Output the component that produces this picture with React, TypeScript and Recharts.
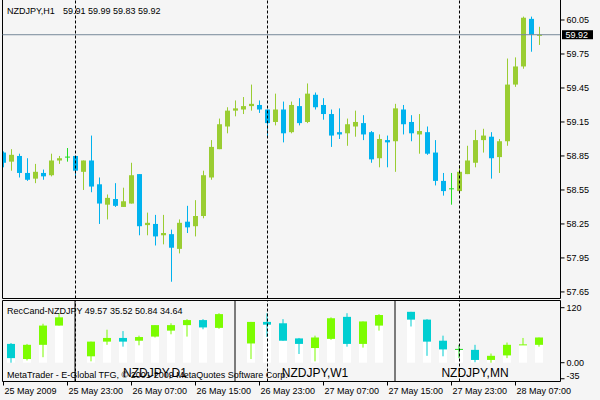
import React from 'react';
import { ComposedChart, Bar, XAxis, YAxis, ReferenceLine, ReferenceArea } from 'recharts';

const FONT = '"Liberation Sans", Arial, sans-serif';
const BG = '#f5f5f5';
const UP = '#9acd32';
const DOWN = '#00b2ee';
const DOJI = '#22dd22';
const REC_UP = '#7cfc00';
const REC_DOWN = '#00ced1';

// NZDJPY H1, 25 May 2009 15:00 -> 28 May 2009 10:00
const opens = [
  58.88, 58.80, 58.85, 58.70, 58.65, 58.70, 58.68, 58.81, 58.84, 58.85,
  58.71, 58.81, 58.60, 58.42, 58.47, 58.40, 58.43, 58.69, 58.24, 58.25,
  58.15, 58.16, 58.03, 58.27, 58.23, 58.32, 58.66, 58.91, 59.11, 59.25,
  59.26, 59.29, 59.30, 59.26, 59.15, 59.26, 59.06, 59.29, 59.15, 59.39,
  59.30, 59.22, 59.06, 59.05, 59.11, 59.14, 59.06, 58.83, 58.99, 58.98,
  59.26, 59.15, 59.04, 59.06, 58.88, 58.63, 58.56, 58.54, 58.69, 58.79,
  58.99, 59.02, 58.84, 58.98, 59.48, 59.64, 60.06, 59.91,
];
const highs = [
  58.89, 58.91, 58.87, 58.83, 58.78, 58.73, 58.87, 58.85, 58.92, 58.85,
  58.81, 59.03, 58.66, 58.51, 58.61, 58.57, 58.79, 58.69, 58.35, 58.33,
  58.33, 58.20, 58.29, 58.41, 58.46, 58.72, 58.99, 59.18, 59.28, 59.34,
  59.37, 59.48, 59.34, 59.26, 59.40, 59.33, 59.33, 59.36, 59.49, 59.41,
  59.36, 59.26, 59.27, 59.18, 59.25, 59.21, 59.07, 59.04, 59.03, 59.31,
  59.30, 59.21, 59.22, 59.11, 58.99, 58.70, 58.70, 58.77, 58.94, 59.08,
  59.09, 59.06, 59.00, 59.71, 59.72, 60.08, 60.08, 59.99,
];
const lows = [
  58.75, 58.72, 58.66, 58.63, 58.61, 58.64, 58.67, 58.78, 58.80, 58.65,
  58.55, 58.53, 58.25, 58.29, 58.40, 58.40, 58.43, 58.15, 58.15, 58.06,
  58.07, 57.74, 57.99, 58.17, 58.14, 58.30, 58.64, 58.91, 59.05, 59.20,
  59.22, 59.25, 59.23, 59.02, 59.12, 58.97, 59.05, 59.12, 59.14, 59.26,
  59.17, 58.93, 59.00, 58.94, 59.02, 58.99, 58.79, 58.75, 58.75, 58.71,
  59.04, 58.98, 58.87, 58.86, 58.59, 58.50, 58.42, 58.52, 58.69, 58.75,
  58.88, 58.65, 58.70, 58.94, 59.46, 59.62, 59.77, 59.83,
];
const closes = [
  58.79, 58.86, 58.70, 58.64, 58.71, 58.67, 58.81, 58.83, 58.84, 58.72,
  58.81, 58.58, 58.43, 58.48, 58.41, 58.45, 58.68, 58.23, 58.26, 58.14,
  58.17, 58.04, 58.26, 58.22, 58.32, 58.68, 58.93, 59.13, 59.25, 59.27,
  59.29, 59.31, 59.26, 59.14, 59.26, 59.05, 59.30, 59.14, 59.40, 59.28,
  59.22, 59.03, 59.04, 59.13, 59.15, 59.04, 58.82, 59.00, 58.97, 59.27,
  59.13, 59.05, 59.07, 58.87, 58.63, 58.54, 58.56, 58.71, 58.81, 58.99,
  59.03, 58.83, 58.98, 59.48, 59.64, 60.07, 59.92, 59.92,
];

const priceTicks = [57.65, 57.95, 58.25, 58.55, 58.85, 59.15, 59.45, 59.75, 60.05];
const lastPrice = 59.92;
const daySeparators = [9, 33, 57];
const timeTicks = [0, 8, 16, 24, 32, 40, 48, 56, 64];
const timeLabels = [
  '25 May 2009', '25 May 23:00', '26 May 07:00', '26 May 15:00', '26 May 23:00',
  '27 May 07:00', '27 May 15:00', '27 May 23:00', '28 May 07:00',
];

// RecCand sub window: one group of candles per timeframe
const recNames = ['', 'NZDJPY,D1', 'NZDJPY,W1', 'NZDJPY,MN'];
const recOpen = [
  [41, 8, 39, 81],
  [14, 46, 54, 48, 57, 70, 82, 93, 76],
  [42, 89, 86, 53, 32, 52, 100, 41, 81],
  [111, 94, 48, 29, 28, 6, 16, 39, 39],
];
const recHigh = [
  [43, 41, 85, 108],
  [46, 72, 69, 59, 82, 86, 95, 95, 108],
  [89, 108, 95, 54, 59, 99, 108, 90, 106],
  [111, 95, 59, 39, 39, 20, 44, 54, 55],
];
const recLow = [
  [0, 5, 12, 81],
  [3, 39, 35, 38, 55, 62, 57, 73, 74],
  [8, 56, 48, 19, 3, 50, 35, 33, 70],
  [79, 15, 14, 10, 1, 0, 10, 39, 35],
];
const recClose = [
  [10, 39, 81, 99],
  [46, 54, 46, 56, 82, 82, 93, 77, 106],
  [89, 83, 48, 41, 55, 97, 41, 90, 104],
  [94, 46, 29, 29, 6, 15, 39, 40, 55],
];
const recTicks = [120, 0, -35];

const candles = opens.map((o, i) => ({
  i, o, hi: highs[i], lo: lows[i], c: closes[i], range: [lows[i], highs[i]],
}));

const groupStart = [0, 5, 15, 25];
const recCandles = recOpen.flatMap((arr, g) =>
  arr.map((o, j) => ({
    slot: groupStart[g] + j,
    o, hi: recHigh[g][j], lo: recLow[g][j], c: recClose[g][j],
    span: [0, recHigh[g][j]],
  }))
);

const Candle = (props: any) => {
  const { x, y, width, height, payload } = props;
  const top = Math.min(y, y + height);
  const h = Math.abs(height);
  const { o, hi, lo, c } = payload;
  const k = hi > lo ? h / (hi - lo) : 0;
  const py = (v: number) => top + (hi - v) * k;
  const cx = x + width / 2;
  if (o === c) {
    return (
      <g>
        <rect x={cx - 0.5} y={top} width={1} height={h} fill={DOJI} />
        <rect x={cx - 2.5} y={py(o) - 0.5} width={5} height={1} fill={DOJI} />
      </g>
    );
  }
  const color = c > o ? UP : DOWN;
  const bt = py(Math.max(o, c));
  const bb = py(Math.min(o, c));
  return (
    <g>
      <rect x={cx - 0.5} y={top} width={1} height={h} fill={color} />
      <rect x={cx - 2.5} y={bt} width={5} height={Math.max(1, bb - bt)} fill={color} />
    </g>
  );
};

const RecCandle = (props: any) => {
  const { x, y, width, height, payload } = props;
  const top = Math.min(y, y + height);
  const h = Math.abs(height);
  const { o, hi, lo, c } = payload;
  const k = hi > 0 ? h / hi : 0;
  const py = (v: number) => top + (hi - v) * k;
  const cx = x + width / 2;
  const zero = top + h;
  const bodyLow = py(Math.min(o, c));
  const column = <rect x={cx - 4} y={bodyLow} width={8} height={Math.max(0, zero - bodyLow)} fill="#fff" />;
  if (o === c) {
    return (
      <g>
        {column}
        <rect x={cx - 0.5} y={top} width={1} height={py(lo) - top} fill={DOJI} />
        <rect x={cx - 4} y={py(o) - 0.5} width={8} height={1} fill={DOJI} />
      </g>
    );
  }
  const color = c > o ? REC_UP : REC_DOWN;
  const bt = py(Math.max(o, c));
  return (
    <g>
      {column}
      <rect x={cx - 0.5} y={top} width={1} height={py(lo) - top} fill={color} />
      <rect x={cx - 4} y={bt} width={8} height={Math.max(1, bodyLow - bt)} fill={color} />
    </g>
  );
};

const PriceTag = (props: any) => {
  const { x, y, width } = props.viewBox;
  return (
    <g>
      <rect x={x + width + 1.5} y={y - 4.5} width={31} height={9} fill="#000" />
      <text x={x + width + 5} y={y} dy="0.35em" fill="#fff" fontSize={9} fontFamily={FONT}>
        {lastPrice.toFixed(2)}
      </text>
    </g>
  );
};

const TimeTick = (props: any) => {
  const { x, y, payload } = props;
  const idx = timeTicks.indexOf(payload.value);
  return (
    <text x={x + 1} y={y} dy="0.71em" fontSize={9} fontFamily={FONT} fill="#000">
      {timeLabels[idx]}
    </text>
  );
};

const RecTick = (props: any) => {
  const { x, y, payload } = props;
  const v = payload.value;
  const label = v === 0 ? '0.00' : String(v);
  return (
    <text x={x} y={v === -35 ? y - 3 : y} dy="0.35em" fontSize={9} fontFamily={FONT} fill="#000">
      {label}
    </text>
  );
};

const GroupLabel = (props: any) => {
  const { x, y, width, height } = props.viewBox;
  return (
    <text x={x + width / 2} y={y + height - 5} textAnchor="middle" fontSize={12} fontFamily={FONT} fill="#000">
      {props.value}
    </text>
  );
};

const xDomain = [-0.125, 69.625];
const priceDomain = [57.592, 60.2265];
const slotDomain = [-0.53125, 34.34375];
const recDomain = [-41, 135.7];

export default function App() {
  return (
    <div style={{ position: 'absolute', left: 0, top: 0, width: 600, height: 400, background: BG, overflow: 'hidden' }}>
      <div style={{ position: 'absolute', left: 0, top: 0 }}>
        <ComposedChart width={600} height={299} data={candles} margin={{ top: 0, right: 0, bottom: 0.5, left: 2.5 }}>
          <XAxis type="number" dataKey="i" domain={xDomain} allowDataOverflow hide height={0} />
          <YAxis
            orientation="right"
            width={39.5}
            domain={priceDomain}
            allowDataOverflow
            ticks={priceTicks}
            interval={0}
            tickFormatter={(v: number) => v.toFixed(2)}
            tickSize={4}
            tickMargin={2}
            axisLine={{ stroke: '#000' }}
            tickLine={{ stroke: '#000' }}
            tick={{ fontSize: 9, fontFamily: FONT, fill: '#000' }}
          />
          <ReferenceLine x={xDomain[0]} stroke="#000" ifOverflow="visible" />
          <ReferenceLine y={priceDomain[0]} stroke="#000" ifOverflow="visible" />
          {daySeparators.map((d) => (
            <ReferenceLine key={d} x={d} stroke="#000" strokeDasharray="3 2" />
          ))}
          <ReferenceLine y={lastPrice} stroke="#778899" label={<PriceTag />} />
          <Bar dataKey="range" barSize={6} shape={<Candle />} isAnimationActive={false} />
        </ComposedChart>
      </div>
      <div style={{ position: 'absolute', left: 0, top: 300 }}>
        <ComposedChart width={600} height={100} data={recCandles} margin={{ top: 0.5, right: 0, bottom: 0, left: 2.5 }}>
          <XAxis
            xAxisId="time"
            type="number"
            dataKey="slot"
            domain={xDomain}
            allowDataOverflow
            ticks={timeTicks}
            interval={0}
            height={18.5}
            tickSize={4}
            tickMargin={2.5}
            tickLine={{ stroke: '#000' }}
            axisLine={{ stroke: '#000' }}
            tick={<TimeTick />}
          />
          <XAxis xAxisId="slot" type="number" dataKey="slot" domain={slotDomain} allowDataOverflow hide height={0} />
          <YAxis
            orientation="right"
            width={39.5}
            domain={recDomain}
            allowDataOverflow
            ticks={recTicks}
            interval={0}
            tickSize={4}
            tickMargin={2}
            axisLine={{ stroke: '#000' }}
            tickLine={{ stroke: '#000' }}
            tick={<RecTick />}
          />
          <ReferenceLine xAxisId="slot" x={slotDomain[0]} stroke="#000" ifOverflow="visible" />
          <ReferenceLine xAxisId="slot" y={recDomain[1]} stroke="#000" ifOverflow="visible" />
          {daySeparators.map((d) => (
            <ReferenceLine key={d} xAxisId="time" x={d} stroke="#000" strokeDasharray="3 2" />
          ))}
          {groupStart.slice(1).map((s) => (
            <ReferenceLine key={s} xAxisId="slot" x={s - 1} stroke="#000" />
          ))}
          {recNames.map((name, g) =>
            name ? (
              <ReferenceArea
                key={name}
                xAxisId="slot"
                x1={groupStart[g] - 1}
                x2={groupStart[g] + 9}
                fill="none"
                label={<GroupLabel value={name} />}
              />
            ) : null
          )}
          <Bar xAxisId="slot" dataKey="span" barSize={8} shape={<RecCandle />} isAnimationActive={false} />
        </ComposedChart>
      </div>
      <svg width={600} height={400} style={{ position: 'absolute', left: 0, top: 0, pointerEvents: 'none' }}>
        <g fontFamily={FONT} fontSize={9} fill="#000">
          <text x={7} y={11} dy="0.35em">NZDJPY,H1</text>
          <text x={63} y={11} dy="0.35em">59.91 59.99 59.83 59.92</text>
          <text x={7} y={310.5} dy="0.35em">RecCand-NZDJPY 49.57 35.52 50.84 34.64</text>
          <text x={7} y={375} dy="0.35em">MetaTrader - E-Global TFG, © 2001-2009 MetaQuotes Software Corp.</text>
        </g>
      </svg>
    </div>
  );
}
